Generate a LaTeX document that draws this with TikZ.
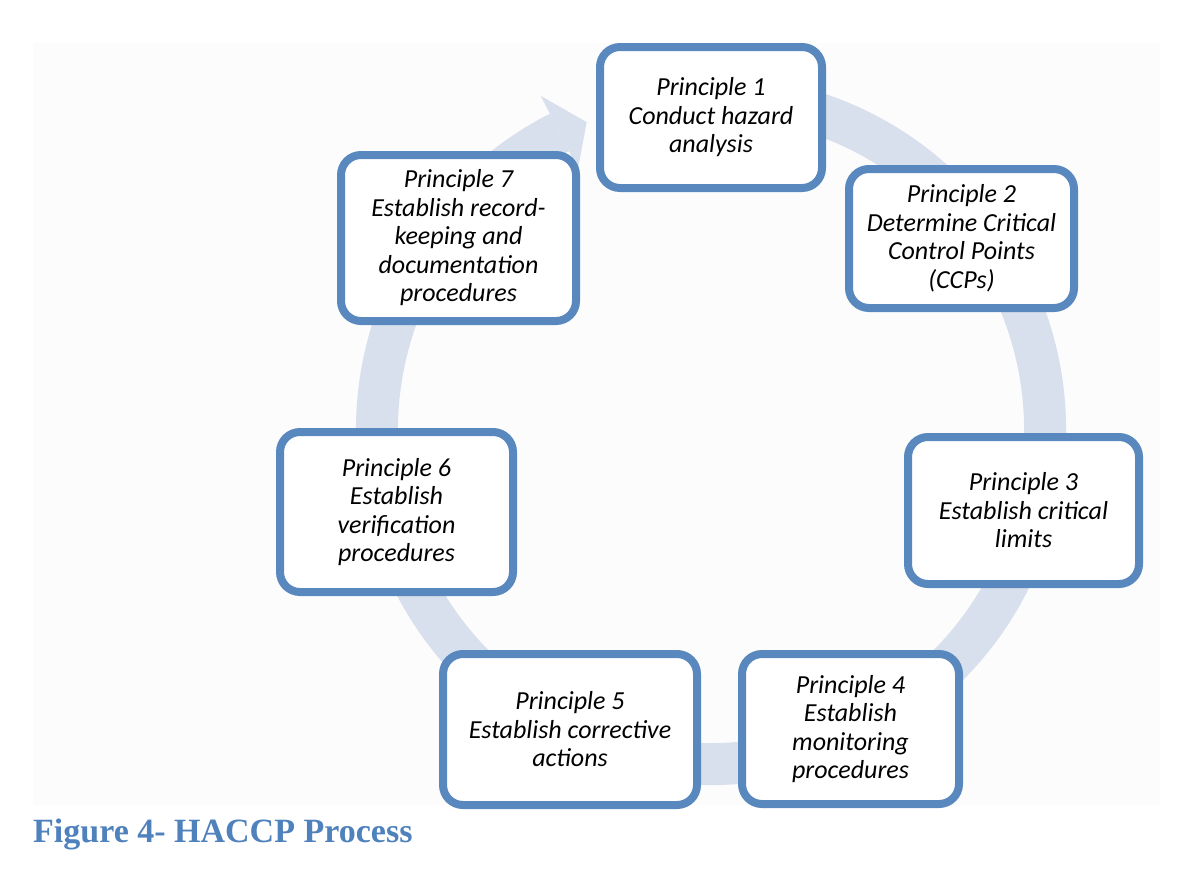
\documentclass[tikz,border=0pt]{standalone}
\usepackage{fontspec}
\setmainfont{Carlito}
\newfontfamily\capfont{Liberation Serif}
\definecolor{boxblue}{RGB}{88,136,189}
\definecolor{ringcol}{RGB}{216,223,237}
\definecolor{capblue}{RGB}{79,129,189}
\definecolor{bggray}{RGB}{252,252,252}
\tikzset{
  pbox/.style={draw=boxblue, line width=8pt, rounded corners=20pt, fill=white,
    align=center, inner sep=0pt, text=black,
    font=\fontsize{26}{28.5}\selectfont\itshape},
  ring/.style={draw=ringcol, line width=42pt},
}
\begin{document}
\begin{tikzpicture}[x=1pt,y=-1pt]
\useasboundingbox (0,0) rectangle (1200,871);
\fill[white] (0,0) rectangle (1200,871);
\fill[bggray] (33,43) rectangle (1160,805);
% ring
\coordinate (c) at (711,430);
\draw[ring] ([shift={(-75:334)}]c) arc[start angle=-75, end angle=243, radius=334];
\fill[ringcol] ([shift={(243:375)}]c) -- ([shift={(248:332)}]c) -- ([shift={(243:293)}]c) -- cycle;
% boxes
\node[pbox, minimum width=222pt, minimum height=141pt] (p1) at (711,117.5) {Principle 1\\Conduct hazard\\analysis};
\node[pbox, minimum width=225pt, minimum height=139pt] (p2) at (961.5,238.5) {Principle 2\\Determine Critical\\Control Points\\(CCPs)};
\node[pbox, minimum width=231pt, minimum height=147pt] (p3) at (1023.5,510.5) {Principle 3\\Establish critical\\limits};
\node[pbox, minimum width=217pt, minimum height=150pt] (p4) at (850.5,729) {Principle 4\\Establish\\monitoring\\procedures};
\node[pbox, minimum width=254pt, minimum height=151pt] (p5) at (570,729.5) {Principle 5\\Establish corrective\\actions};
\node[pbox, minimum width=233pt, minimum height=160pt] (p6) at (396.5,512) {Principle 6\\Establish\\verification\\procedures};
\node[pbox, minimum width=235pt, minimum height=166pt] (p7) at (458.5,238) {Principle 7\\Establish record-\\keeping and\\documentation\\procedures};
% caption
\node[anchor=base west, inner sep=0pt, text=capblue, font=\capfont\bfseries\fontsize{34}{40}\selectfont] (cap) at (33,842) {Figure 4- HACCP Process};
\end{tikzpicture}
\end{document}
